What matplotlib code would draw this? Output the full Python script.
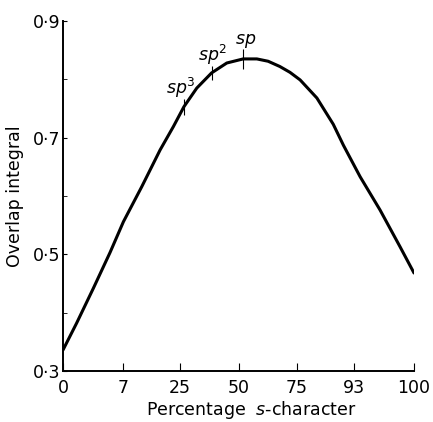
import numpy as np
import matplotlib
matplotlib.use("Agg")
import matplotlib.pyplot as plt
from matplotlib.ticker import FixedLocator

# --------- DATA ----------
# percentage s-character and overlap integral
s_pct = [0.0, 0.37, 1.84, 4.36, 7.14, 11.92, 17.73, 22.48, 26.53, 31.76,
         38.07, 44.77, 52.10, 58.17, 63.10, 68.08, 72.23, 76.20, 82.27,
         87.50, 90.35, 94.30, 97.71, 99.61, 100.0]
overlap = [0.336, 0.382, 0.442, 0.503, 0.556, 0.616, 0.679, 0.719, 0.753, 0.785,
           0.811, 0.828, 0.835, 0.835, 0.831, 0.822, 0.812, 0.799, 0.768,
           0.723, 0.687, 0.633, 0.576, 0.513, 0.468]

hyb_labels = [r"$sp^3$", r"$sp^2$", r"$sp$"]
hyb_s = [26.53, 38.07, 52.10]
hyb_v = [0.753, 0.811, 0.835]
hyb_offsets = [(-3, 7), (1, 6), (2, 9)]      # label offsets in pixels
hyb_ticklen = [16, 15, 21]                   # marker lengths in pixels

x_ticks = [0, 7, 25, 50, 75, 93, 100]
y_ticks = [0.3, 0.5, 0.7, 0.9]
y_ticklabels = ["0·3", "0·5", "0·7", "0·9"]
y_minor = [0.4, 0.6, 0.8]
# --------------------------


def fwd(s):
    # axis is linear in the hybrid mixing angle
    s = np.clip(np.asarray(s, dtype=float) / 100.0, 0.0, 1.0)
    return np.degrees(np.arcsin(np.sqrt(s)))


def inv(a):
    return 100.0 * np.sin(np.radians(np.asarray(a, dtype=float))) ** 2


plt.rcParams["mathtext.fontset"] = "dejavusans"

fig = plt.figure(figsize=(4.33, 4.22), dpi=100)
ax = fig.add_axes([63 / 433, 1 - 371 / 422, (414 - 63) / 433, (371 - 21) / 422])

ax.set_xscale("function", functions=(fwd, inv))
ax.plot(s_pct, overlap, color="black", lw=2.2, solid_capstyle="round",
        solid_joinstyle="round")

for lab, s, v, off, ln in zip(hyb_labels, hyb_s, hyb_v, hyb_offsets, hyb_ticklen):
    ax.plot([s], [v], marker="|", markersize=ln / 1.39, markeredgewidth=0.8,
            color="black")
    ax.annotate(lab, (s, v), xytext=off, textcoords="offset pixels",
                ha="center", va="bottom", fontsize=12.5)

ax.set_xlim(0, 100)
ax.set_ylim(0.3, 0.9)
ax.xaxis.set_major_locator(FixedLocator(x_ticks))
ax.set_xticklabels([str(t) for t in x_ticks])
ax.xaxis.set_minor_locator(FixedLocator([]))
ax.set_yticks(y_ticks)
ax.set_yticklabels(y_ticklabels)
ax.yaxis.set_minor_locator(FixedLocator(y_minor))

for side in ["top", "right"]:
    ax.spines[side].set_visible(False)
for side in ["left", "bottom"]:
    ax.spines[side].set_linewidth(1.4)

ax.tick_params(axis="x", direction="in", length=6, width=0.8, pad=6,
               labelsize=12.5)
ax.tick_params(axis="y", direction="in", length=3, width=0.8, pad=2,
               labelsize=12.5)
ax.tick_params(axis="y", which="minor", direction="in", length=3, width=0.6)

ax.set_xlabel(r"Percentage  $s$-character", fontsize=12.5, va="baseline")
ax.xaxis.set_label_coords(0.536, -0.126)
ax.set_ylabel("Overlap integral", fontsize=12.5, labelpad=6)

fig.savefig("out.png", dpi=100)
